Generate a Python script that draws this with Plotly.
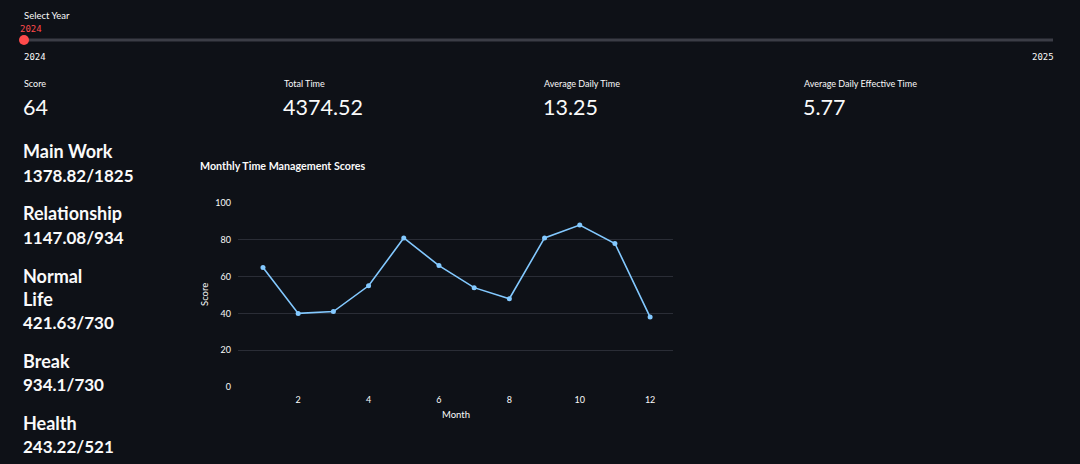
import plotly.graph_objects as go

# ---- data ----
months = [1, 2, 3, 4, 5, 6, 7, 8, 9, 10, 11, 12]
scores = [65, 40, 41, 55, 81, 66, 54, 48, 81, 88, 78, 38]
x_ticks = [2, 4, 6, 8, 10, 12]
y_ticks = [0, 20, 40, 60, 80, 100]

year_min, year_max, year_sel = "2024", "2025", "2024"

metric_labels = ["Score", "Total Time", "Average Daily Time", "Average Daily Effective Time"]
metric_values = ["64", "4374.52", "13.25", "5.77"]

category_names = ["Main Work", "Relationship", "Normal<br>Life", "Break", "Health"]
category_values = ["1378.82/1825", "1147.08/934", "421.63/730", "934.1/730", "243.22/521"]

chart_title = "Monthly Time Management Scores"

# ---- style ----
BG = "#0e1117"
FG = "#fafafa"
FONT = "Lato"
W, H = 1080, 464


def py(pix):
    return 1 - pix / H


def px(pix):
    return pix / W


def text(x, y, s, size, family=FONT, color=FG, xanchor="left", **kw):
    return dict(x=px(x), y=py(y), xref="paper", yref="paper", text=s,
                font=dict(size=size, color=color, family=family),
                xanchor=xanchor, yanchor="middle", showarrow=False, align="left",
                borderpad=0, **kw)


fig = go.Figure()
fig.add_trace(go.Scatter(
    x=months, y=scores, mode="lines+markers",
    line=dict(color="#83c9ff", width=1.6),
    marker=dict(color="#83c9ff", size=5),
    hoverinfo="x+y", showlegend=False,
))

ann = []
# slider
ann.append(text(23, 15, "Select Year", 9.5))
ann.append(text(19, 29, year_sel, 9, family="DejaVu Sans Mono", color="#ff4b4b"))
ann.append(text(23, 57, year_min, 9, family="DejaVu Sans Mono"))
ann.append(text(1055, 57, year_max, 9, family="DejaVu Sans Mono", xanchor="right"))

# metrics
mx = [23, 283, 543, 803]
for i, (lab, val) in enumerate(zip(metric_labels, metric_values)):
    ann.append(text(mx[i], 83, lab, 9))
    ann.append(text(mx[i] - 1, 107, val, 21.5))

# left column categories
name_y = [151, 213, 287, 361, 423]
val_y = [175, 237, 322, 384, 446]
for nm, vl, ny, vy in zip(category_names, category_values, name_y, val_y):
    ann.append(text(22, ny, "<b>" + nm + "</b>", 18))
    ann.append(text(22, vy, "<b>" + vl + "</b>", 17))

# chart title and axis titles
ann.append(text(199, 165, "<b>" + chart_title + "</b>", 10.7))
ann.append(text(204, 295, "Score", 9.5, xanchor="center", textangle=-90))
ann.append(text(456, 414, "Month", 9.5, xanchor="center"))

shapes = [
    dict(type="line", xref="paper", yref="paper", x0=px(24), x1=px(1053), y0=py(40), y1=py(40),
         line=dict(color="#3b3d46", width=3)),
    dict(type="circle", xref="paper", yref="paper", x0=px(19), x1=px(29), y0=py(35), y1=py(45),
         fillcolor="#ff4b4b", line=dict(color="#ff4b4b", width=0)),
]

fig.update_layout(
    width=W, height=H,
    margin=dict(l=0, r=0, t=0, b=0, autoexpand=False),
    paper_bgcolor=BG, plot_bgcolor=BG,
    font=dict(family=FONT, color=FG),
    annotations=ann, shapes=shapes,
    xaxis=dict(domain=[px(238), px(673)], range=[0.29, 12.65],
               tickvals=x_ticks, ticktext=[str(t) for t in x_ticks],
               showgrid=False, zeroline=False, showline=False, ticks="",
               tickfont=dict(size=9, color=FG, family=FONT), ticklabelstandoff=6),
    yaxis=dict(domain=[py(387), py(203)], range=[0, 100],
               tickvals=y_ticks, ticktext=[str(t) for t in y_ticks],
               showgrid=True, gridcolor="#2a2d36", gridwidth=1, zeroline=False,
               showline=False, ticks="",
               tickfont=dict(size=9, color=FG, family=FONT), ticklabelstandoff=6),
)

fig.write_html(
    "out.html",
    config={"displayModeBar": False},
    post_script="document.body.style.margin='0';document.body.style.background='#0e1117';",
)
